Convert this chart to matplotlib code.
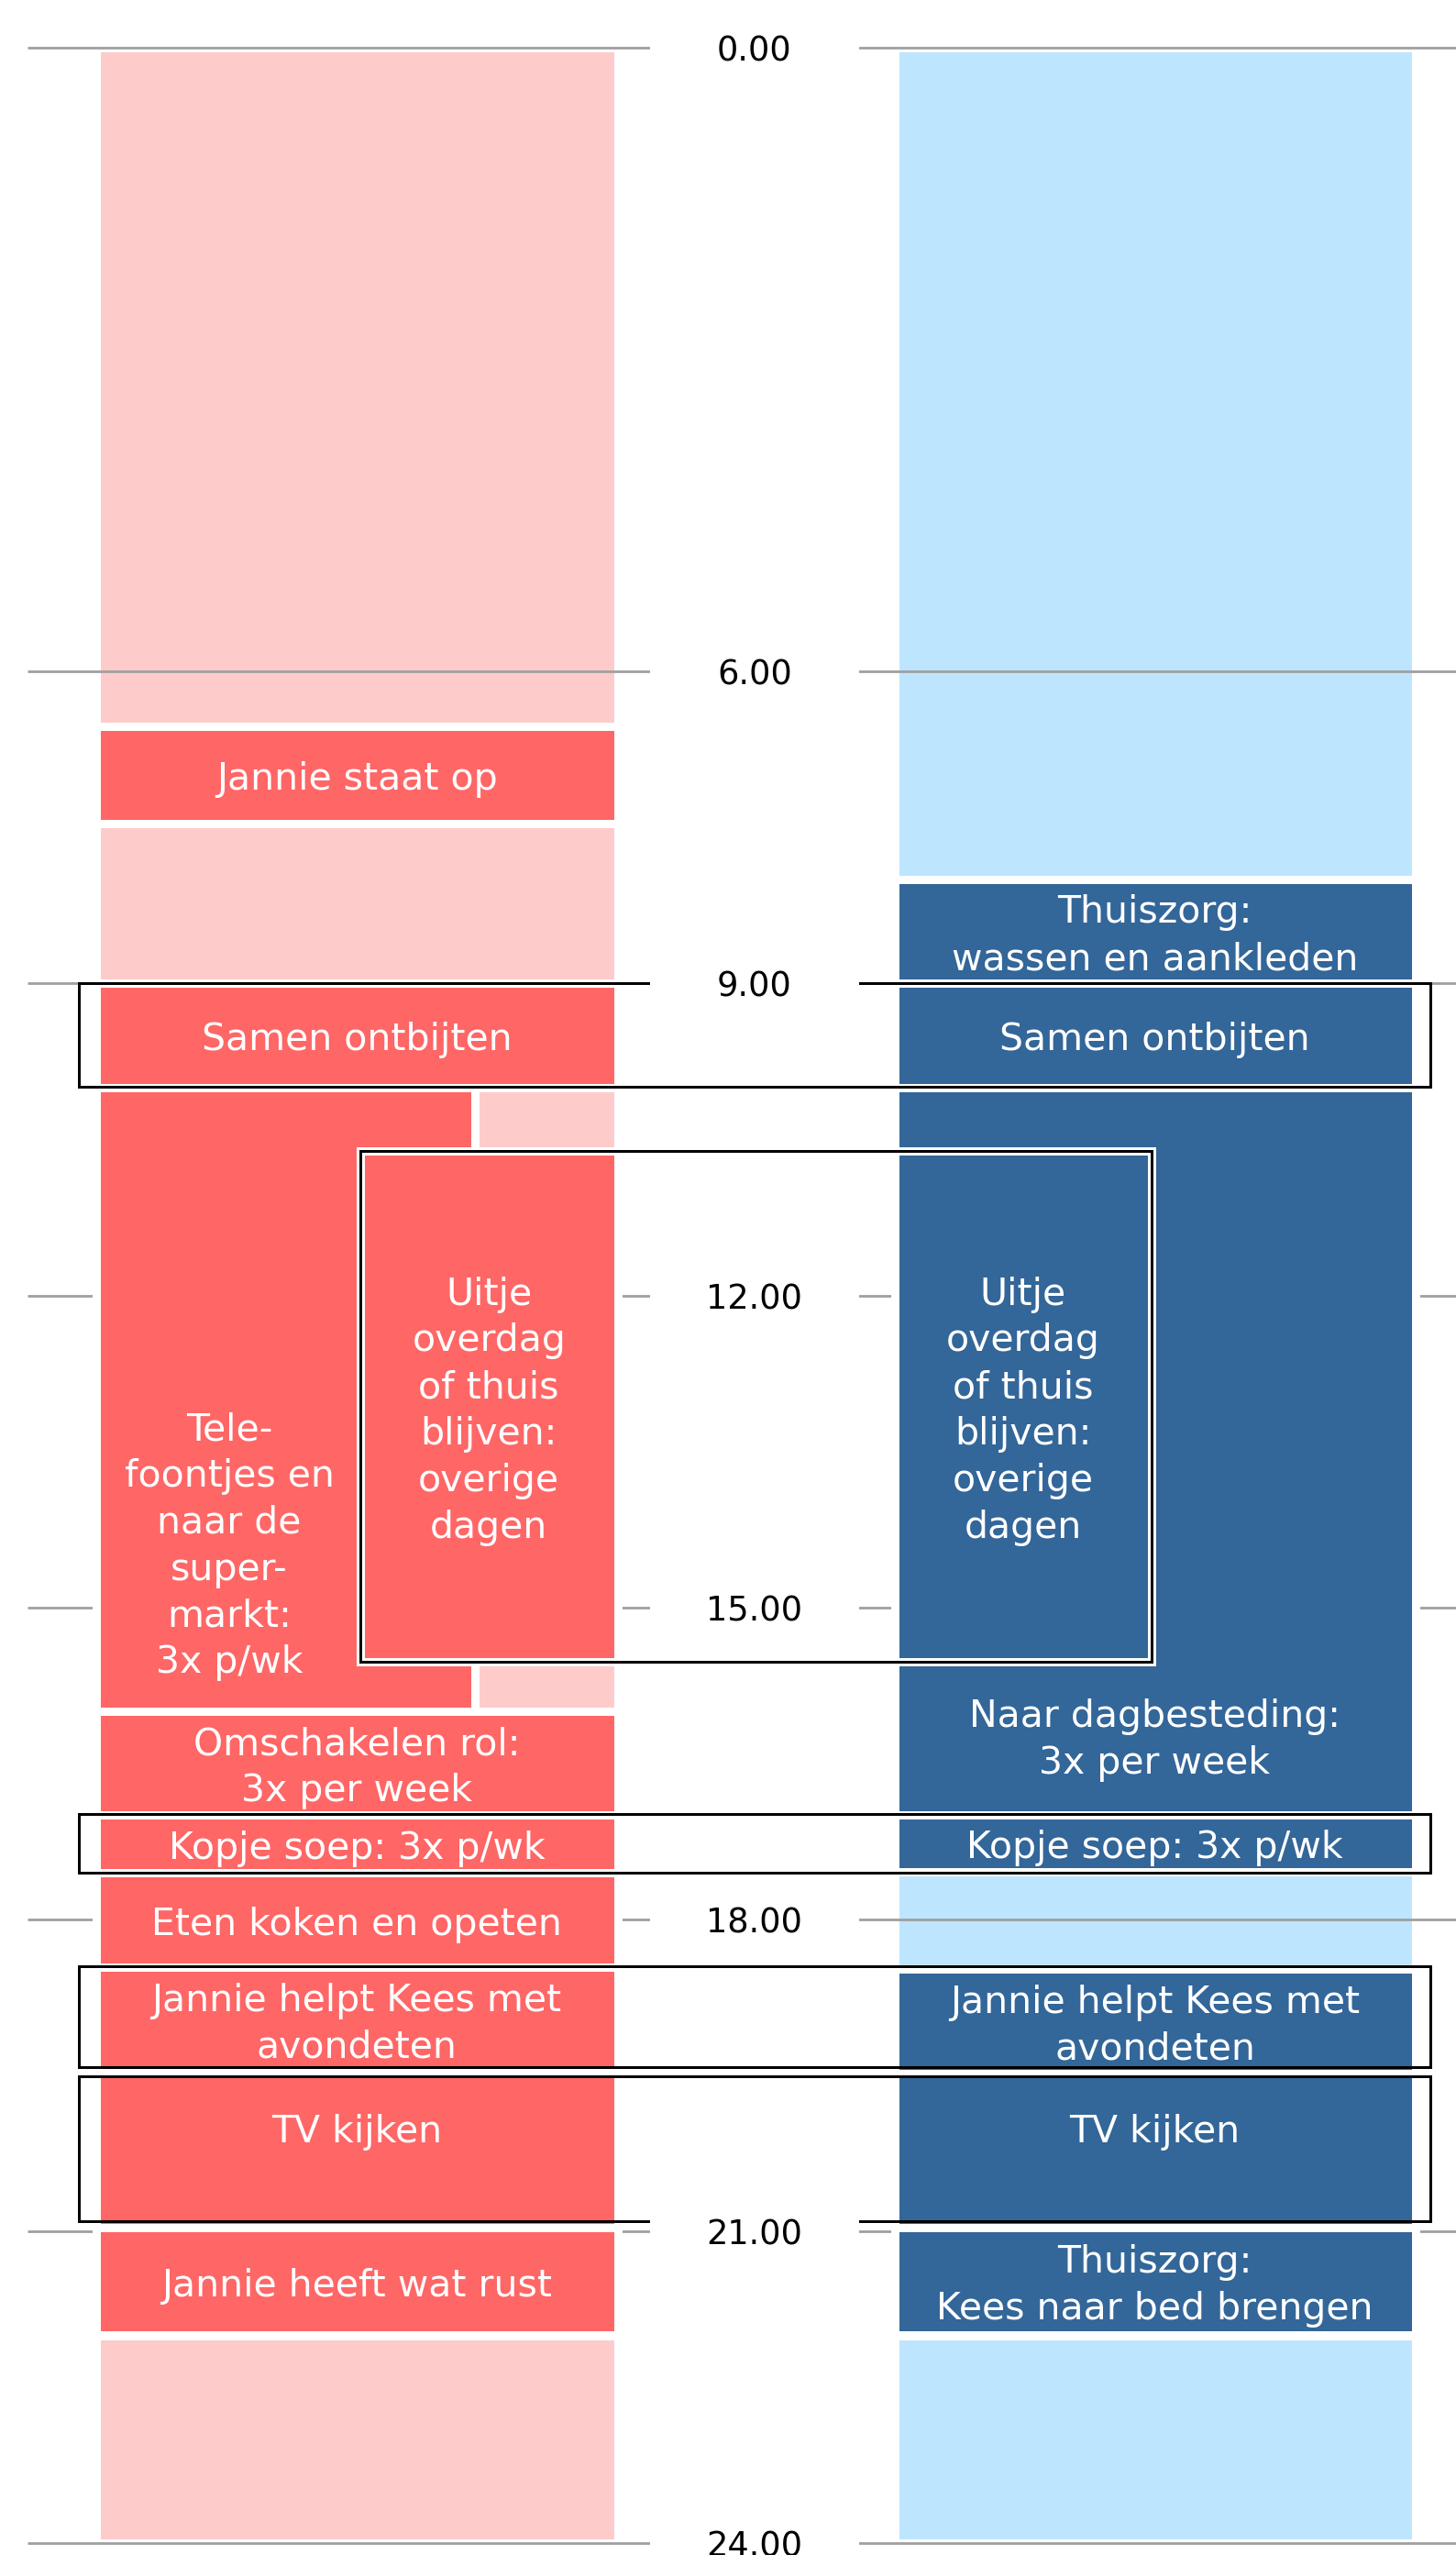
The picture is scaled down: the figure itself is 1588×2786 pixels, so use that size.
import matplotlib
matplotlib.use("Agg")
import matplotlib.pyplot as plt

plt.rcParams['font.family'] = ['DejaVu Sans']

# ---------------- data (hours of the day) ----------------
tick_hours = [0, 6, 9, 12, 15, 18, 21, 24]
tick_labels = ["0.00", "6.00", "9.00", "12.00", "15.00", "18.00", "21.00", "24.00"]

# Jannie (left column)
jannie_labels = ["", "Jannie staat op", "", "Samen ontbijten",
                 "Tele-\nfoontjes en\nnaar de\nsuper-\nmarkt:\n3x p/wk", "",
                 "Omschakelen rol:\n3x per week", "Kopje soep: 3x p/wk",
                 "Eten koken en opeten", "Jannie helpt Kees met\navondeten",
                 "TV kijken", "Jannie heeft wat rust", ""]
jannie_start = [0.0, 6.53, 7.46, 9.0, 10.0, 10.0, 16.0, 16.995, 17.55, 18.46, 19.47, 20.96, 22.0]
jannie_end = [6.53, 7.46, 9.0, 10.0, 16.0, 16.0, 16.995, 17.55, 18.46, 19.47, 20.96, 22.0, 24.0]
jannie_busy = [0, 1, 0, 1, 1, 0, 1, 1, 1, 1, 1, 1, 0]
jannie_lane = ["full", "full", "full", "full", "left", "right", "full", "full",
               "full", "full", "full", "full", "full"]
jannie_text_at = [None, None, None, None, 14.37, None, None, None, None, None, 20.0, None, None]

# Kees (right column)
kees_labels = ["", "Thuiszorg:\nwassen en aankleden", "Samen ontbijten",
               "Naar dagbesteding:\n3x per week", "Kopje soep: 3x p/wk", "",
               "Jannie helpt Kees met\navondeten", "TV kijken",
               "Thuiszorg:\nKees naar bed brengen", ""]
kees_start = [0.0, 8.0, 9.0, 10.0, 16.995, 17.54, 18.48, 19.48, 20.96, 22.0]
kees_end = [8.0, 9.0, 10.0, 16.995, 17.54, 18.48, 19.48, 20.96, 22.0, 24.0]
kees_busy = [0, 1, 1, 1, 1, 0, 1, 1, 1, 0]
kees_text_at = [None, None, None, 16.23, None, None, None, 20.0, None, None]

# Shared optional activity (both columns, boxed)
uitje_label = "Uitje\noverdag\nof thuis\nblijven:\noverige\ndagen"
uitje_start = 10.615
uitje_end = 15.52

# Shared activities outlined together
shared_start = [9.0, 16.99, 18.455, 19.51]
shared_end = [9.99, 17.55, 19.42, 20.90]

# ---------------- styling / layout ----------------
W, H = 1588, 2786
DPI = 100
PX_PER_H = 113.4
Y0 = 51.7
RED, PINK = "#FF6666", "#FECBCB"
BLUE, LBLUE = "#336699", "#BEE5FE"
EDGE_LW = 9 * 72 / DPI        # 9 px white separation
BOX_LW = 3 * 72 / DPI
GRID_LW = 2.8 * 72 / DPI
TXT = 29.5
TICK_TXT = 26.5
LSP = 1.35
TEXT_DY = 0.045               # small downward nudge of block texts (hours)

lanes_left = {"full": (104.5, 673.5), "left": (104.5, 518.0), "right": (516.5, 673.5)}
lanes_right = {"full": (975.5, 1543.5)}
left_text_x = {"full": 389.0, "left": 250.0, "right": 595.0}
right_text_x = 1259.5
uitje_x = (393.0, 1255.5)
uitje_left_inner = (393.0, 673.5)
uitje_right_inner = (975.5, 1255.5)
shared_x = (86.0, 1560.0)
label_x = (709.0, 937.0)

fig = plt.figure(figsize=(W / DPI, H / DPI), dpi=DPI)
ax = fig.add_axes([0, 0, 1, 1])
ax.set_xlim(0, W)
ax.set_ylim((H - Y0) / PX_PER_H, -Y0 / PX_PER_H)
ax.axis("off")

# gridlines
ax.hlines(tick_hours, 30, W, color="#A0A0A0", lw=GRID_LW, zorder=2)


def draw_bar(x0, x1, s, e, color, busy, z=None):
    ax.bar((x0 + x1) / 2, e - s, bottom=s, width=x1 - x0, color=color,
           edgecolor="white", linewidth=EDGE_LW,
           zorder=(z if z is not None else (3 if busy else 1)))


def block_text(x, y, lab, z):
    ax.text(x, y + TEXT_DY, lab, ha="center", va="center", ma="center",
            color="white", fontsize=TXT, linespacing=LSP, zorder=z)


# Jannie column
for lab, s, e, b, lane, ta in zip(jannie_labels, jannie_start, jannie_end,
                                  jannie_busy, jannie_lane, jannie_text_at):
    x0, x1 = lanes_left[lane]
    draw_bar(x0, x1, s, e, RED if b else PINK, b)
    if lab:
        block_text(left_text_x[lane], ta if ta is not None else (s + e) / 2, lab, 3.5)

# Kees column
for lab, s, e, b, ta in zip(kees_labels, kees_start, kees_end, kees_busy, kees_text_at):
    x0, x1 = lanes_right["full"]
    draw_bar(x0, x1, s, e, BLUE if b else LBLUE, b)
    if lab:
        block_text(right_text_x, ta if ta is not None else (s + e) / 2, lab, 3.5)

# Uitje block (overlaying both columns)
draw_bar(*uitje_left_inner, uitje_start, uitje_end, RED, 1, z=4.0)
draw_bar(*uitje_right_inner, uitje_start, uitje_end, BLUE, 1, z=4.0)
for lw, col, z in [(EDGE_LW, "white", 4.2), (BOX_LW, "black", 4.3)]:
    ax.bar((uitje_x[0] + uitje_x[1]) / 2, uitje_end - uitje_start, bottom=uitje_start,
           width=uitje_x[1] - uitje_x[0], fill=False, edgecolor=col, linewidth=lw,
           zorder=z)
mid = (uitje_start + uitje_end) / 2
block_text((uitje_left_inner[0] + uitje_left_inner[1]) / 2, mid, uitje_label, 4.5)
block_text((uitje_right_inner[0] + uitje_right_inner[1]) / 2, mid, uitje_label, 4.5)

# shared-activity outlines
for s, e in zip(shared_start, shared_end):
    ax.bar((shared_x[0] + shared_x[1]) / 2, e - s, bottom=s,
           width=shared_x[1] - shared_x[0], fill=False, edgecolor="black",
           linewidth=BOX_LW, zorder=4.6)

# time labels with white backing
for h, t in zip(tick_hours, tick_labels):
    ax.bar((label_x[0] + label_x[1]) / 2, 0.44, bottom=h - 0.22,
           width=label_x[1] - label_x[0], color="white", linewidth=0, zorder=5)
    ax.text((label_x[0] + label_x[1]) / 2, h, t, ha="center", va="center_baseline",
            fontsize=TICK_TXT, color="black", zorder=6)

fig.savefig("out.png", dpi=DPI, facecolor="white")
